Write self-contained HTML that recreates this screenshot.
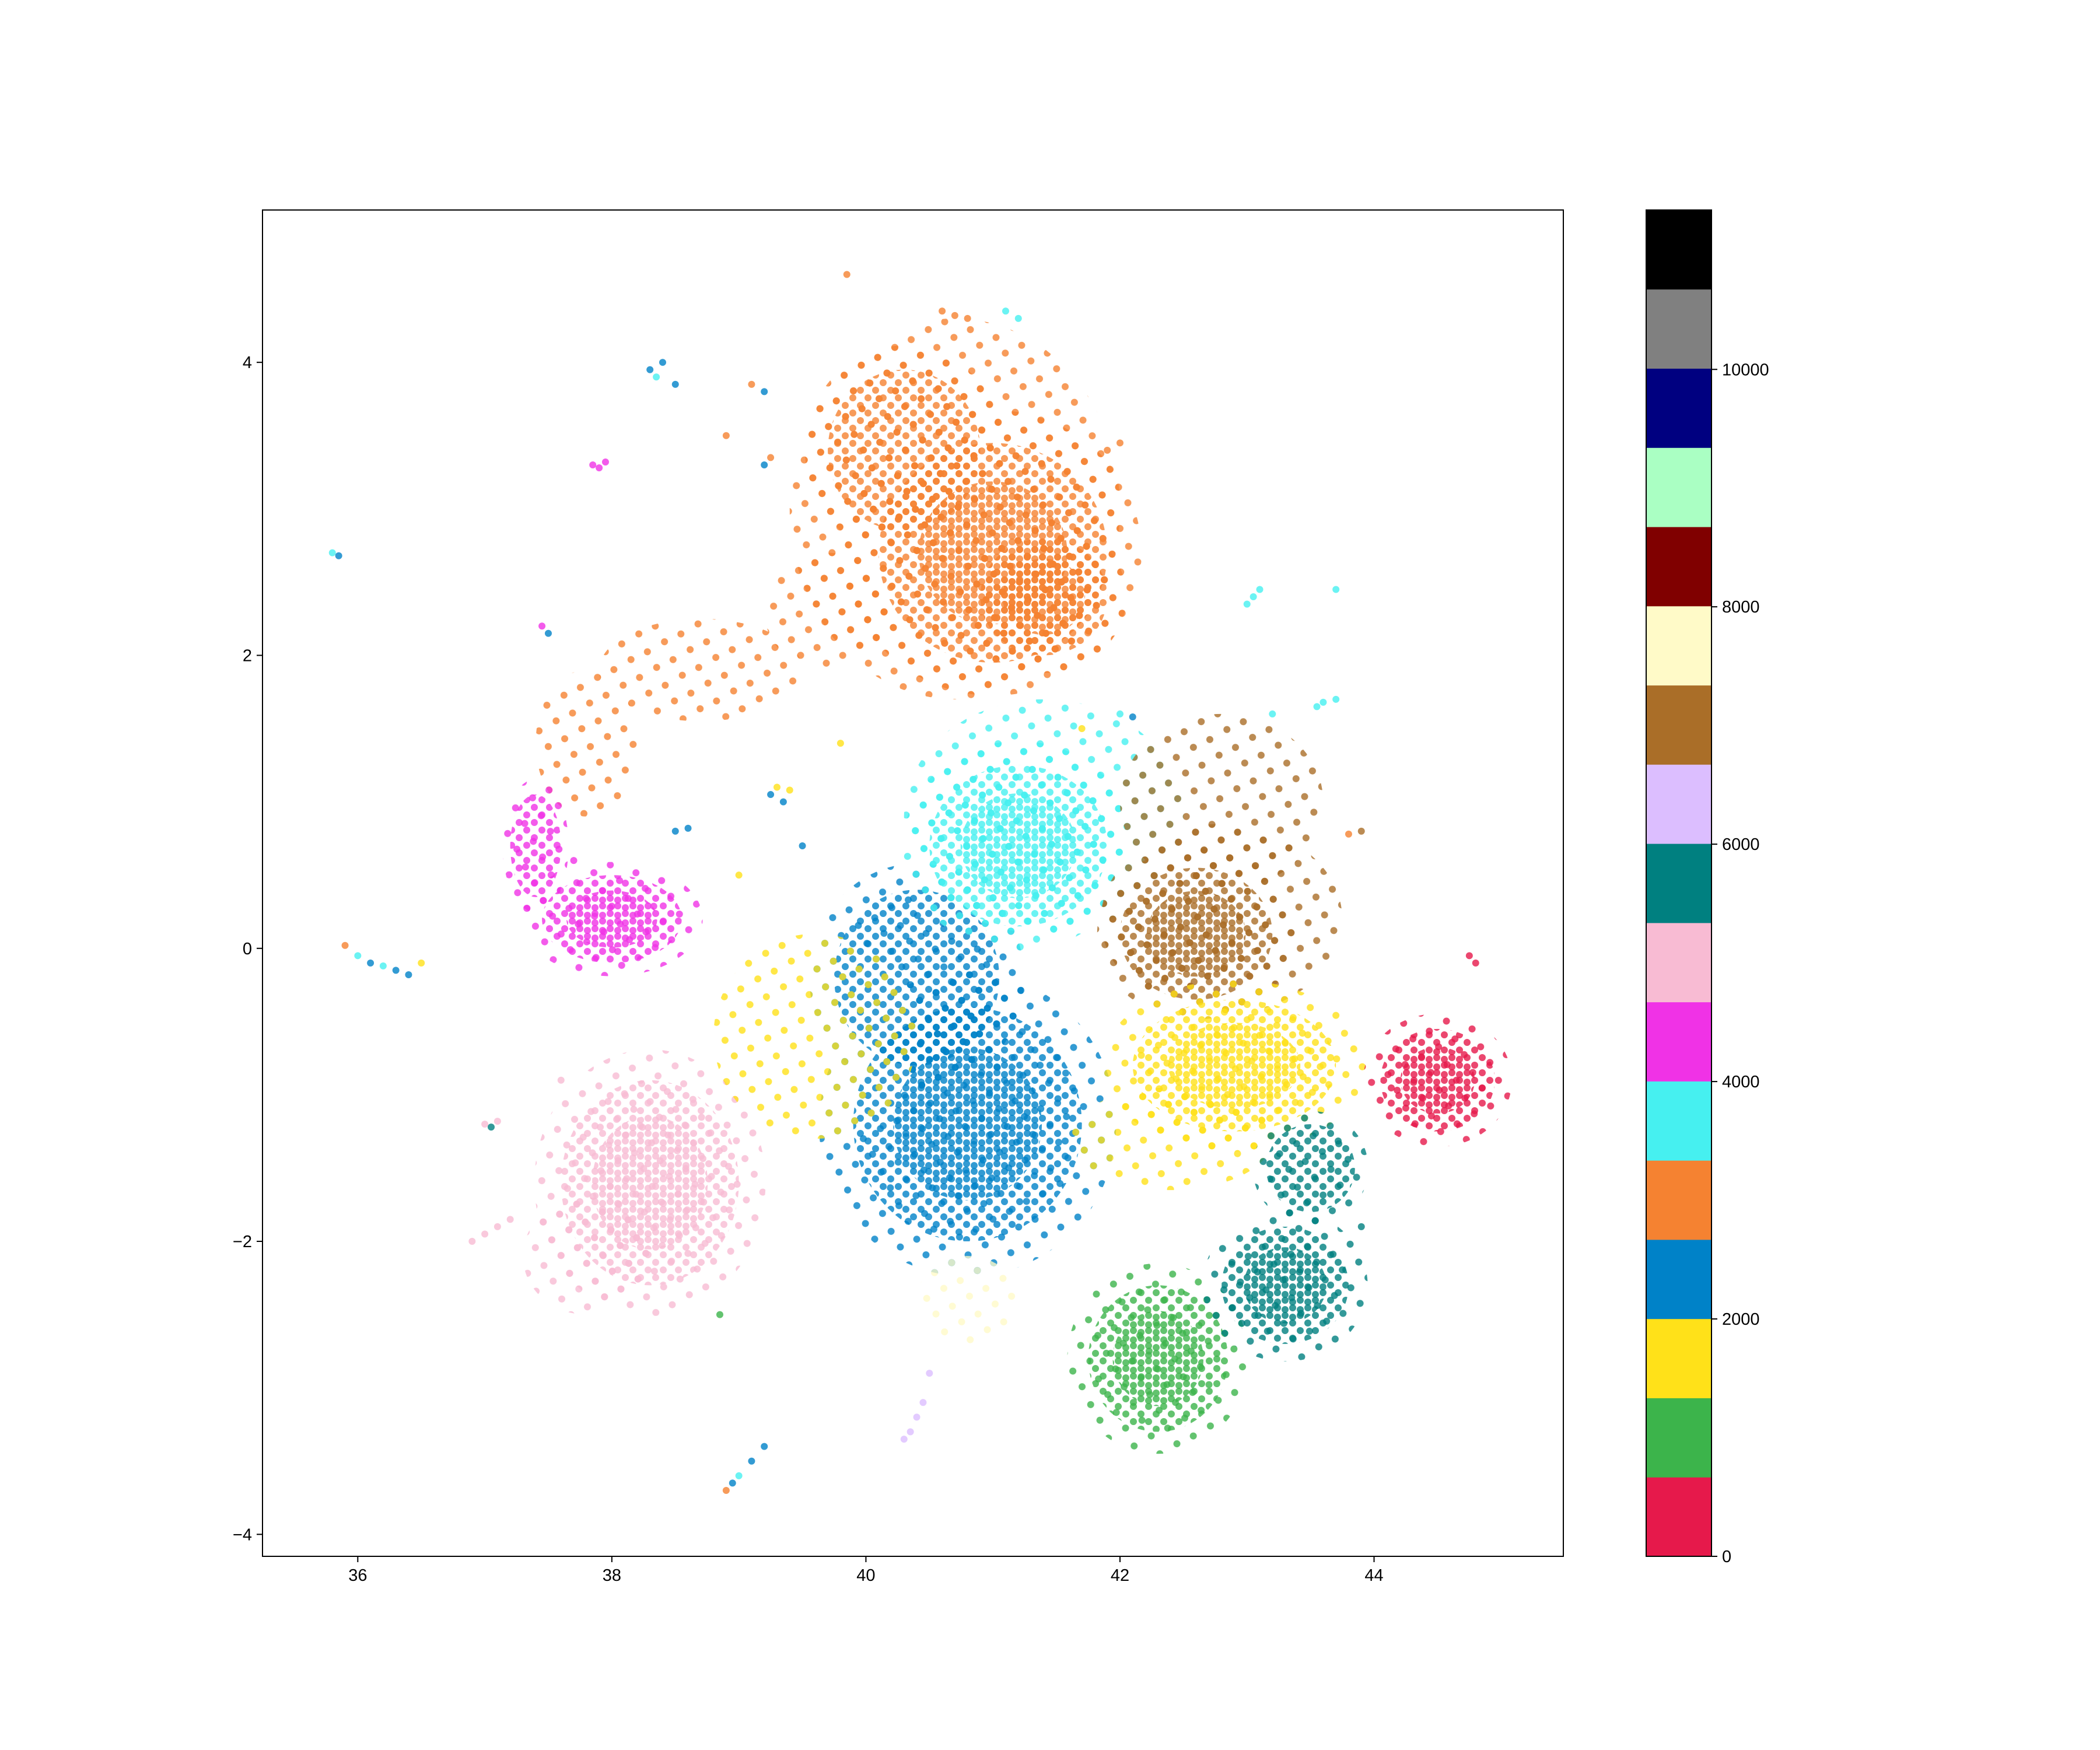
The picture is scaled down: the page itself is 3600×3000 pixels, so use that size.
<!DOCTYPE html>
<html><head><meta charset="utf-8">
<style>
html,body{margin:0;padding:0;background:#fff;}
svg{display:block;font-family:"Liberation Sans","DejaVu Sans",sans-serif;}
</style></head>
<body>
<svg id="fig" width="3600" height="3000" viewBox="0 0 3600 3000" xmlns="http://www.w3.org/2000/svg">
<defs id="defs"></defs>
<g id="plot"></g>
<g id="axes"></g>
<g id="cbar"></g>
</svg>
<script>
// colorbar palette (bottom to top)
const paletteColors = ["#e6194b","#3cb44b","#ffe119","#0082c8","#f58231","#46f0f0","#f032e6","#f8bbd3","#008080","#dcbeff","#aa6e28","#fffac8","#800000","#aaffc3","#000080","#808080","#000000"];
const xTicks = [36,38,40,42,44];
const yTicks = [-4,-2,0,2,4];
const cbarTicks = [0,2000,4000,6000,8000,10000];
const cbarMax = 11343;
// clusters: center x, center y, radius x, radius y, palette index, density (0 sparse,1 normal,2 dense core)
const clusterX   = [40.7, 41.0, 40.3, 41.4, 39.7, 38.7, 37.8, 38.0, 37.4, 38.3, 37.8, 40.8, 40.4, 41.2, 41.4, 42.6, 42.8, 42.9, 42.4, 39.6, 42.3, 43.3, 44.5, 40.8, 43.5, 42.8];
const clusterY   = [ 3.0,  2.7,  3.4,  2.4,  2.3,  1.9,  1.4,  0.2,  0.7, -1.6, -2.1, -1.2, -0.2,  0.7,  0.9,  0.1,  0.2, -0.8, -1.3, -0.6, -2.8, -2.3, -0.9, -2.4, -1.5,  1.0];
const clusterRX  = [ 1.3,  0.9,  0.6,  0.5,  0.5,  0.8,  0.4,  0.55, 0.2,  0.7,  0.5,  0.9,  0.65, 0.7,  1.1,  0.6,  0.95, 0.8,  0.8,  0.8,  0.55, 0.5,  0.45, 0.4,  0.35, 0.8];
const clusterRY  = [ 1.3,  0.75, 0.55, 0.4,  0.4,  0.35, 0.5,  0.3,  0.35, 0.7,  0.4,  0.8,  0.6,  0.55, 0.8,  0.45, 0.65, 0.45, 0.35, 0.7,  0.5,  0.4,  0.35, 0.3,  0.3,  0.6];
const clusterCat = [ 4,    4,    4,    4,    4,    4,    4,    6,    6,    7,    7,    3,    3,    5,    5,    10,   10,   2,    2,    2,    1,    8,    0,    11,   8,    10];
const clusterDen = [ 0,    2,    1,    2,    0,    0,    0,    2,    1,    2,    0,    2,    1,    2,    0,    2,    0,    2,    0,    0,    2,    2,    2,    0,    1,    0];
// isolated points / small groups
const ptX = [35.8,35.85,35.9,36.0,36.1,36.2,36.3,36.4,36.5,38.9,38.95,39.0,39.1,39.2,40.3,40.35,40.4,40.45,40.5,38.3,38.35,38.4,38.5,37.85,37.9,37.95,39.25,39.3,39.35,39.4,41.1,41.2,40.6,40.7,40.8,43.55,43.6,43.7,43.0,43.05,43.1,43.7,37.0,37.05,37.1,36.9,37.0,37.1,37.2,44.75,44.8,39.85,41.9,42.0,37.45,37.5,38.5,38.6,39.2,39.25,42.0,42.1,43.8,43.9,39.1,39.2,38.9,38.85,39.0,39.5,39.8,41.7,43.2,43.9,37.6,37.7];
const ptY = [2.7,2.68,0.02,-0.05,-0.1,-0.12,-0.15,-0.18,-0.1,-3.7,-3.65,-3.6,-3.5,-3.4,-3.35,-3.3,-3.2,-3.1,-2.9,3.95,3.9,4.0,3.85,3.3,3.28,3.32,1.05,1.1,1.0,1.08,4.35,4.3,4.35,4.32,4.3,1.65,1.68,1.7,2.35,2.4,2.45,2.45,-1.2,-1.22,-1.18,-2.0,-1.95,-1.9,-1.85,-0.05,-0.1,4.6,3.4,3.45,2.2,2.15,0.8,0.82,3.3,3.35,1.6,1.58,0.78,0.8,3.85,3.8,3.5,-2.5,0.5,0.7,1.4,1.5,1.6,-1.9,-0.9,0.6];
const ptCat = [5,3,4,5,3,5,3,3,2,4,3,5,3,3,9,9,9,9,9,3,5,3,3,6,6,6,3,2,3,2,5,5,4,4,4,5,5,5,5,5,5,5,7,8,7,7,7,7,7,0,0,4,4,4,6,3,3,3,3,4,5,3,4,10,4,3,4,1,2,3,2,2,5,8,7,6];

const L=450,R=2680,T=360,B=2668;
const XMIN=35.25,XMAX=45.49,YMIN=-4.15,YMAX=5.04;
const sx=v=>L+(v-XMIN)/(XMAX-XMIN)*(R-L);
const sy=v=>B-(v-YMIN)/(YMAX-YMIN)*(B-T);
const NS="http://www.w3.org/2000/svg";
function mk(tag,attrs,parent){const e=document.createElementNS(NS,tag);for(const k in attrs)e.setAttribute(k,attrs[k]);parent.appendChild(e);return e;}
const defs=document.getElementById('defs');
paletteColors.forEach((c,i)=>{
  const p=mk('pattern',{id:'pat'+i,width:26,height:26,patternUnits:'userSpaceOnUse'},defs);
  mk('circle',{cx:6,cy:6,r:6,fill:c,'fill-opacity':0.8},p);
  mk('circle',{cx:19,cy:19,r:6,fill:c,'fill-opacity':0.8},p);
  const p2=mk('pattern',{id:'patd'+i,width:26,height:26,patternUnits:'userSpaceOnUse',patternTransform:'translate(13,3)'},defs);
  mk('circle',{cx:6,cy:6,r:6,fill:c,'fill-opacity':0.8},p2);
  mk('circle',{cx:19,cy:19,r:6,fill:c,'fill-opacity':0.8},p2);
  const p0=mk('pattern',{id:'pats'+i,width:46,height:46,patternUnits:'userSpaceOnUse',patternTransform:'rotate(17)'},defs);
  mk('circle',{cx:8,cy:8,r:6,fill:c,'fill-opacity':0.8},p0);
  mk('circle',{cx:31,cy:29,r:6,fill:c,'fill-opacity':0.8},p0);
});
const plot=document.getElementById('plot');
clusterX.forEach((cx,i)=>{
  const rx=clusterRX[i]*(R-L)/(XMAX-XMIN), ry=clusterRY[i]*(B-T)/(YMAX-YMIN);
  const d=clusterDen[i], k=clusterCat[i];
  const e=mk('ellipse',{cx:sx(cx),cy:sy(clusterY[i]),rx:rx,ry:ry,fill:d===0?'url(#pats'+k+')':'url(#pat'+k+')'},plot);
  
  
  if(d>0){
    const h=mk('ellipse',{cx:sx(cx),cy:sy(clusterY[i]),rx:rx*1.3,ry:ry*1.3,fill:'url(#pats'+k+')'},plot);
    
    
  }
  if(d>1){
    const e2=mk('ellipse',{cx:sx(cx),cy:sy(clusterY[i]),rx:rx*0.65,ry:ry*0.65,fill:'url(#patd'+k+')'},plot);
    
    
  }
});
ptX.forEach((x,i)=>{
  const c=mk('circle',{cx:sx(x),cy:sy(ptY[i]),r:6,fill:paletteColors[ptCat[i]],'fill-opacity':0.8},plot);
  
  
});
const ax=document.getElementById('axes');
const fr=mk('rect',{x:L,y:T,width:R-L,height:B-T,fill:'none',stroke:'#000','stroke-width':2},ax);


xTicks.forEach(v=>{
  const x=sx(v);
  mk('line',{x1:x,x2:x,y1:B,y2:B+10,stroke:'#000','stroke-width':2},ax);
  const t=mk('text',{x:x,y:B+42,'font-size':29,'text-anchor':'middle',fill:'#000'},ax);
  t.textContent=v;
  
  
});
yTicks.forEach(v=>{
  const y=sy(v);
  mk('line',{x1:L-10,x2:L,y1:y,y2:y,stroke:'#000','stroke-width':2},ax);
  const t=mk('text',{x:L-18,y:y+10,'font-size':29,'text-anchor':'end',fill:'#000'},ax);
  t.textContent=(v<0?'\u2212'+(-v):v);
  
  
});
const cb=document.getElementById('cbar');
const CL=2822,CR=2934;
const n=paletteColors.length, bh=(B-T)/n;
paletteColors.forEach((c,i)=>{
  const r=mk('rect',{x:CL,y:B-(i+1)*bh,width:CR-CL,height:bh+0.5,fill:c},cb);
  
  
});
mk('rect',{x:CL,y:T,width:CR-CL,height:B-T,fill:'none',stroke:'#000','stroke-width':2},cb);
cbarTicks.forEach(v=>{
  const y=B-v/cbarMax*(B-T);
  mk('line',{x1:CR,x2:CR+10,y1:y,y2:y,stroke:'#000','stroke-width':2},cb);
  const t=mk('text',{x:CR+18,y:y+10,'font-size':29,fill:'#000'},cb);
  t.textContent=v;
  
  
});
</script>
</body></html>
